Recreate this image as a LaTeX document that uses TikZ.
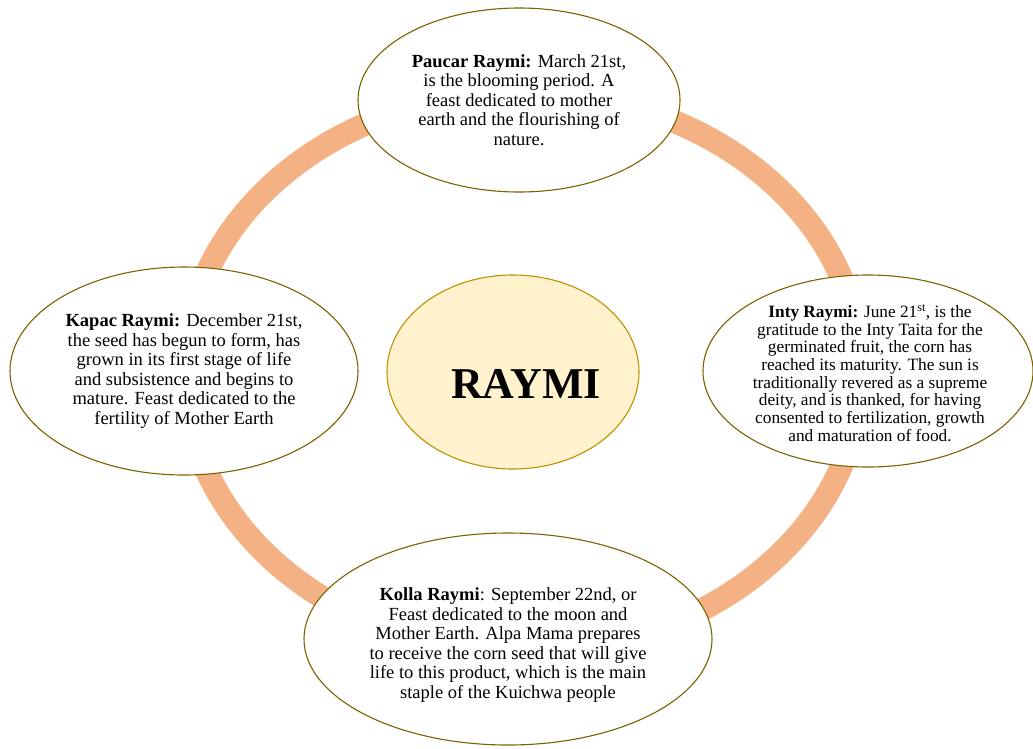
\documentclass[tikz,border=0pt]{standalone}
\usepackage{fontspec}
\setmainfont{Liberation Serif}
\usetikzlibrary{shapes.geometric}
\definecolor{ringorange}{HTML}{F4B183}
\definecolor{edgebrown}{HTML}{7F6000}
\definecolor{coreedge}{HTML}{BF9000}
\definecolor{corefill}{HTML}{FFF2CC}
\tikzset{
  season/.style={ellipse, draw=edgebrown, line width=1.1pt, fill=white, inner sep=0pt},
  core/.style={ellipse, draw=coreedge, line width=1.1pt, fill=corefill, inner sep=0pt},
  feasttext/.style={inner sep=0pt, align=center, font=\fontsize{18.5}{19.5}\selectfont},
  coretext/.style={inner sep=0pt, font=\fontsize{44}{44}\selectfont\bfseries},
  ring/.style={draw=ringorange, line width=23pt}
}
\begin{document}
\begin{tikzpicture}[x=1pt,y=-1pt]
\useasboundingbox (0,0) rectangle (1033,748);
% the cycle of the year
\draw[ring] (523,372) ellipse [x radius=338pt, y radius=280pt];
% centre
\node[core, minimum width=252pt, minimum height=194pt] (raymi) at (513,372) {};
\node[coretext] (raymi-label) at (526,384) {RAYMI};
% the four feasts
\node[season, minimum width=322pt, minimum height=184pt] (paucar) at (519,100) {};
\node[feasttext] (paucar-text) at (519,100)
  {\textbf{Paucar Raymi:} March 21st,\\ is the blooming period. A\\ feast dedicated to mother\\ earth and the flourishing of\\ nature.};
\node[season, minimum width=330pt, minimum height=192pt] (inty) at (868,371) {};
\node[feasttext, font=\fontsize{17.3}{17.7}\selectfont] (inty-text) at (870,373)
  {\textbf{Inty Raymi:} June 21\textsuperscript{st}, is the\\ gratitude to the Inty Taita for the\\ germinated fruit, the corn has\\ reached its maturity. The sun is\\ traditionally revered as a supreme\\ deity, and is thanked, for having\\ consented to fertilization, growth\\ and maturation of food.};
\node[season, minimum width=348pt, minimum height=208pt] (kapac) at (184,371) {};
\node[feasttext] (kapac-text) at (184,371)
  {\textbf{Kapac Raymi:} December 21st,\\ the seed has begun to form, has\\ grown in its first stage of life\\ and subsistence and begins to\\ mature. Feast dedicated to the\\ fertility of Mother Earth};
\node[season, minimum width=408pt, minimum height=212pt] (kolla) at (508,639) {};
\node[feasttext] (kolla-text) at (508,645)
  {\textbf{Kolla Raymi}: September 22nd, or\\ Feast dedicated to the moon and\\ Mother Earth. Alpa Mama prepares\\ to receive the corn seed that will give\\ life to this product, which is the main\\ staple of the Kuichwa people};
\end{tikzpicture}
\end{document}
